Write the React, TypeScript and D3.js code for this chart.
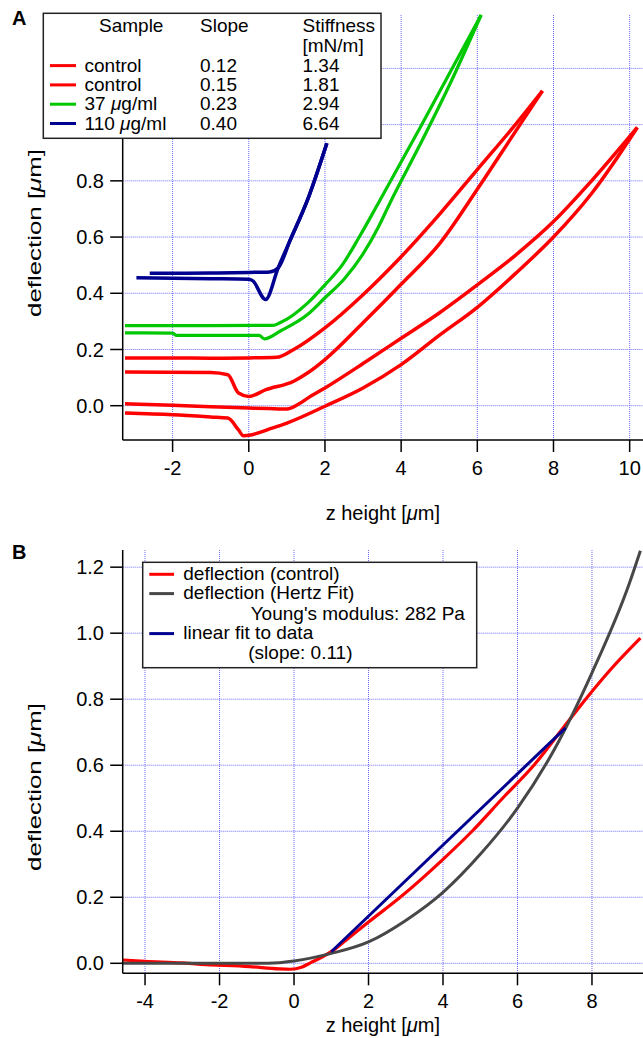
import React from "react";
import * as d3 from "d3";

// ---------- panel A data: deflection vs z height, approach / retract pairs ----------
const ctrl1Upper: [number, number][] = [
  [-3.25, 0.007], [-2, 0.002], [-1, -0.004], [0, -0.008], [0.5, -0.01], [1.0, -0.012],
  [1.3, 0.005], [1.55, 0.027], [2, 0.063], [3, 0.15], [4, 0.24], [5, 0.33], [6, 0.43],
  [7, 0.535], [8, 0.655], [9, 0.8], [10.2, 0.99],
];
const ctrl1Lower: [number, number][] = [
  [-3.25, -0.026], [-2, -0.032], [-1, -0.04], [-0.55, -0.044], [-0.27, -0.086], [-0.14, -0.107],
  [0.09, -0.103], [0.5, -0.085], [1.0, -0.062], [2, -0.002], [3, 0.063], [4, 0.146],
  [5, 0.25], [6, 0.35], [7, 0.47], [8, 0.6], [9, 0.755], [10.2, 0.99],
];
const ctrl2Upper: [number, number][] = [
  [-3.25, 0.17], [-2, 0.17], [-1, 0.169], [0, 0.17], [0.73, 0.172], [1.18, 0.2], [2, 0.277],
  [3, 0.395], [4, 0.53], [5, 0.68], [6, 0.84], [7, 1.0], [7.71, 1.12],
];
const ctrl2Lower: [number, number][] = [
  [-3.25, 0.12], [-1.0, 0.118], [-0.55, 0.11], [-0.27, 0.045], [0, 0.033], [0.45, 0.057],
  [1.18, 0.087], [1.55, 0.117], [2, 0.164], [3, 0.295], [4, 0.432], [5, 0.575], [6, 0.77],
  [7, 0.975], [7.71, 1.12],
];
const greenUpper: [number, number][] = [
  [-3.25, 0.285], [-1, 0.285], [0.64, 0.286], [0.82, 0.295], [1.55, 0.366], [2, 0.43],
  [2.45, 0.5], [2.9, 0.6], [3.44, 0.73], [4.5, 0.99], [5.3, 1.19], [6.1, 1.39],
];
const greenLower: [number, number][] = [
  [-3.25, 0.259], [-2, 0.258], [-1.9, 0.25], [0.27, 0.25], [0.41, 0.238], [0.82, 0.265],
  [1.55, 0.325], [2, 0.384], [2.5, 0.45], [3, 0.54], [3.4, 0.635], [3.72, 0.725],
  [4.5, 0.93], [5.3, 1.15], [6.1, 1.39],
];
const blueUpper: [number, number][] = [
  [-2.6, 0.471], [-1, 0.472], [0, 0.474], [0.55, 0.476], [0.77, 0.49], [1.09, 0.59],
  [1.55, 0.735], [2.05, 0.934],
];
const blueLower: [number, number][] = [
  [-2.95, 0.455], [-1, 0.452], [0, 0.45], [0.1, 0.445], [0.44, 0.378], [0.77, 0.49],
  [1.09, 0.59], [1.55, 0.735], [2.05, 0.934],
];

const legendA = [
  { sample: "control", slope: "0.12", stiff: "1.34", color: "#ff0000" },
  { sample: "control", slope: "0.15", stiff: "1.81", color: "#ff0000" },
  { sample: "37 \u03bcg/ml", slope: "0.23", stiff: "2.94", color: "#00c800" },
  { sample: "110 \u03bcg/ml", slope: "0.40", stiff: "6.64", color: "#000090" },
];

const ticksAX = [-2, 0, 2, 4, 6, 8, 10];
const ticksAY = [0, 0.2, 0.4, 0.6, 0.8, 1.0, 1.2];
const labelsAY = [0, 0.2, 0.4, 0.6, 0.8]; // 1.0 and 1.2 sit under the legend box

// ---------- panel B data: single control curve with Hertz and linear fits ----------
const controlB: [number, number][] = [
  [-4.6, 0.01], [-4, 0.006], [-3, 0.001], [-2.5, -0.003], [-1.2, -0.01], [-0.4, -0.017],
  [-0.1, -0.018], [0.2, -0.012], [0.45, 0.002], [0.8, 0.022], [1.06, 0.04], [1.5, 0.08],
  [2, 0.125], [2.85, 0.2], [4, 0.315], [4.78, 0.4], [5.6, 0.5], [6.44, 0.6], [7.24, 0.715],
  [7.83, 0.8], [8.5, 0.89], [9.3, 0.985],
];
const hertzB: [number, number][] = [
  [-4.6, 0], [-3, 0], [-2, 0], [-1, 0], [-0.4, 0.002], [0, 0.007], [1, 0.03], [2, 0.065],
  [3, 0.13], [4, 0.215], [5, 0.33], [6, 0.47], [7, 0.65], [8, 0.88], [9, 1.15], [9.3, 1.25],
];
const linearB: [number, number][] = [[1.0, 0.035], [7.29, 0.713]];

const ticksBX = [-4, -2, 0, 2, 4, 6, 8];
const ticksBY = [0, 0.2, 0.4, 0.6, 0.8, 1.0, 1.2];

const FONT = "'Liberation Sans', Arial, Helvetica, sans-serif";
const GRID = "#6b6bff";

const Mu = () => <tspan fontStyle="italic">{"\u03bc"}</tspan>;

function withMu(s: string) {
  const parts = s.split("\u03bc");
  return parts.flatMap((p, i) => (i === 0 ? [p] : [<Mu key={i} />, p]));
}

type Series = { data: [number, number][]; color: string; width?: number };

function Panel({
  x, y, ticksX, ticksY, labelsY, series, label, labelY, titleY, tickLabelY, titleXY,
}: any) {
  const [l, r] = x.range();
  const [b, t] = y.range();
  const line = d3
    .line<[number, number]>()
    .x((d) => x(d[0]))
    .y((d) => y(d[1]))
    .curve(d3.curveMonotoneX);
  return (
    <g>
      {/* grid */}
      {ticksX.map((v: number) => (
        <line key={"gx" + v} x1={x(v)} x2={x(v)} y1={t} y2={b}
          stroke={GRID} strokeWidth={1} strokeDasharray="1 1" />
      ))}
      {ticksY.map((v: number) => (
        <line key={"gy" + v} x1={l} x2={r} y1={y(v)} y2={y(v)}
          stroke={GRID} strokeWidth={1} strokeDasharray="1 1" />
      ))}
      {/* curves */}
      {series.map((s: Series, i: number) => (
        <path key={i} d={line(s.data) || ""} fill="none" stroke={s.color}
          strokeWidth={s.width ?? 3} strokeLinejoin="round" />
      ))}
      {/* axes */}
      <line x1={l} x2={l} y1={t} y2={b} stroke="#000" strokeWidth={1.5} />
      <line x1={l} x2={r} y1={b} y2={b} stroke="#000" strokeWidth={1.5} />
      {ticksY.map((v: number) => (
        <line key={"ty" + v} x1={l - 12.5} x2={l} y1={y(v)} y2={y(v)} stroke="#000" strokeWidth={1.5} />
      ))}
      {labelsY.map((v: number) => (
        <text key={"ly" + v} x={104} y={y(v)} dy="0.36em" textAnchor="end" fontSize={20}>
          {d3.format(".1f")(v)}
        </text>
      ))}
      {ticksX.map((v: number) => (
        <g key={"tx" + v}>
          <line x1={x(v)} x2={x(v)} y1={b} y2={b + 12} stroke="#000" strokeWidth={1.5} />
          <text x={x(v)} y={tickLabelY} textAnchor="middle" fontSize={20}>
            {String(v)}
          </text>
        </g>
      ))}
      <text x={(l + r) / 2} y={titleXY} textAnchor="middle" fontSize={20}>
        z height [<Mu />m]
      </text>
      <text transform={`translate(41,${titleY}) rotate(-90)`} textAnchor="middle" fontSize={18.5}
        textLength={168} lengthAdjust="spacingAndGlyphs">
        deflection [<Mu />m]
      </text>
      <text x={12} y={labelY} fontSize={20} fontWeight="bold">{label}</text>
    </g>
  );
}

export default function App() {
  const xA = d3.scaleLinear().domain([-3.31, 10.35]).range([122.7, 643]);
  const yA = d3.scaleLinear().domain([-0.122, 1.39]).range([440, 15]);
  const xB = d3.scaleLinear().domain([-4.6, 9.37]).range([122.7, 643]);
  const yB = d3.scaleLinear().domain([-0.0303, 1.252]).range([973.3, 550]);

  const seriesA: Series[] = [
    { data: ctrl1Upper, color: "#ff0000", width: 3.5 },
    { data: ctrl1Lower, color: "#ff0000", width: 3.5 },
    { data: ctrl2Upper, color: "#ff0000", width: 3.5 },
    { data: ctrl2Lower, color: "#ff0000", width: 3.5 },
    { data: greenUpper, color: "#00c800", width: 3.2 },
    { data: greenLower, color: "#00c800", width: 3.2 },
    { data: blueUpper, color: "#000090", width: 3.5 },
    { data: blueLower, color: "#000090", width: 3.5 },
  ];
  const seriesB: Series[] = [
    { data: controlB, color: "#ff0000", width: 3.2 },
    { data: hertzB, color: "#474747", width: 3 },
    { data: linearB, color: "#000090", width: 3 },
  ];

  const rowsA = [71.6, 90.9, 110.2, 129.5];
  const colSample = 84.5, colSlope = 200, colStiff = 302.5;

  return (
    <div style={{ position: "absolute", left: 0, top: 0 }}>
      <svg width={643} height={1038} style={{ display: "block", fontFamily: FONT }}>
        <rect width={643} height={1038} fill="#fff" />
        <Panel x={xA} y={yA} ticksX={ticksAX} ticksY={ticksAY} labelsY={labelsAY} series={seriesA}
          label="A" labelY={25} titleY={233} tickLabelY={475} titleXY={520} />
        <Panel x={xB} y={yB} ticksX={ticksBX} ticksY={ticksBY} labelsY={ticksBY} series={seriesB}
          label="B" labelY={559} titleY={787} tickLabelY={1008} titleXY={1032} />

        {/* legend A */}
        <g fontSize={19}>
          <rect x={43.3} y={13.3} width={337.7} height={125} fill="#fff" stroke="#222" strokeWidth={1.5} />
          <text x={99} y={32}>Sample</text>
          <text x={colSlope} y={32}>Slope</text>
          <text x={colStiff} y={32}>Stiffness</text>
          <text x={colStiff} y={51.8}>[mN/m]</text>
          {legendA.map((d, i) => (
            <g key={i}>
              <line x1={50} x2={76} y1={rowsA[i] - 6} y2={rowsA[i] - 6} stroke={d.color} strokeWidth={3} />
              <text x={colSample} y={rowsA[i]}>{withMu(d.sample)}</text>
              <text x={colSlope} y={rowsA[i]}>{d.slope}</text>
              <text x={colStiff} y={rowsA[i]}>{d.stiff}</text>
            </g>
          ))}
        </g>

        {/* legend B */}
        <g fontSize={19}>
          <rect x={142.7} y={562.3} width={334} height={105.4} fill="#fff" stroke="#222" strokeWidth={1.5} />
          <line x1={149.3} x2={174} y1={574.3} y2={574.3} stroke="#ff0000" strokeWidth={3} />
          <text x={183.3} y={580}>deflection (control)</text>
          <line x1={149.3} x2={174} y1={593.6} y2={593.6} stroke="#474747" strokeWidth={3} />
          <text x={183.3} y={599.3}>deflection (Hertz Fit)</text>
          <text x={250.7} y={620}>Young's modulus: 282 Pa</text>
          <line x1={149.3} x2={174} y1={633.6} y2={633.6} stroke="#000090" strokeWidth={3} />
          <text x={183.3} y={639.3}>linear fit to data</text>
          <text x={248.3} y={659}>(slope: 0.11)</text>
        </g>
      </svg>
    </div>
  );
}
